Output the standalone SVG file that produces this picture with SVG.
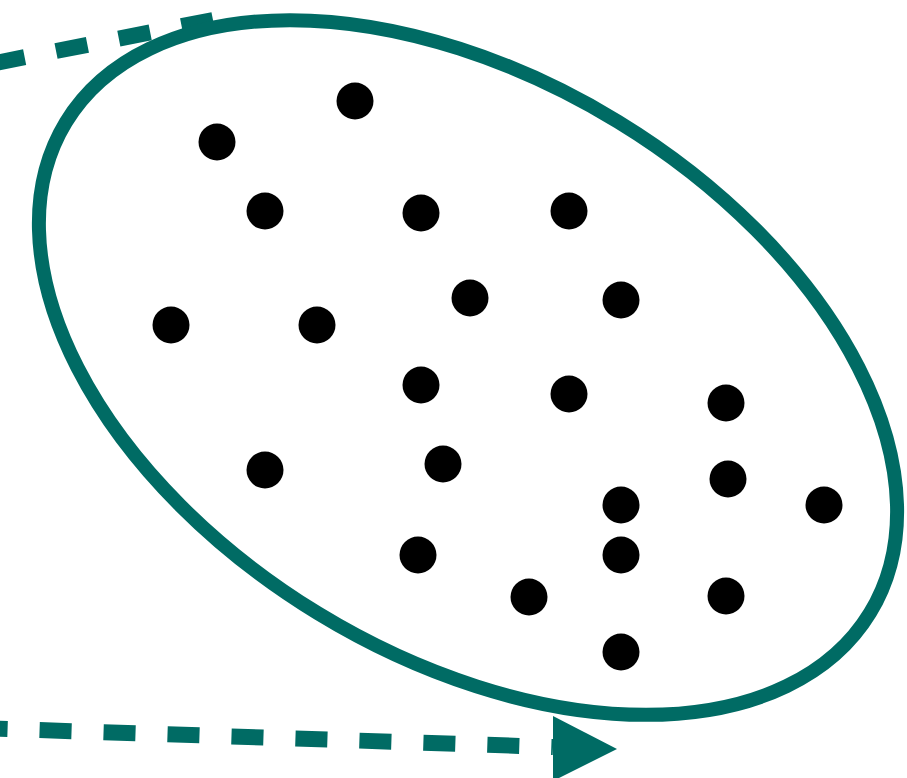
<svg xmlns="http://www.w3.org/2000/svg" width="907" height="778" viewBox="0 0 907 778">
<style>
.edge{fill:none;stroke:#006b64;stroke-width:16;stroke-dasharray:32 32}
.head{fill:#006b64}
.ring{fill:none;stroke:#006b64;stroke-width:14}
.dot{fill:#000}
</style>
<rect width="907" height="778" fill="#fff"/>
<g id="connectors">
<path class="edge" d="M213 20 L-20 66"/>
<path class="edge" d="M-24.4 728 L553 747"/>
<polygon class="head" points="553,716 617,749 553,781"/>
</g>
<g id="cluster">
<ellipse class="ring" cx="468" cy="367.5" rx="471" ry="288" transform="rotate(31.4 468 367.5)"/>
</g>
<g id="points">
<circle class="dot" cx="355" cy="101" r="18.5"/>
<circle class="dot" cx="217" cy="142" r="18.5"/>
<circle class="dot" cx="265" cy="211" r="18.5"/>
<circle class="dot" cx="421" cy="213" r="18.5"/>
<circle class="dot" cx="569" cy="211" r="18.5"/>
<circle class="dot" cx="470" cy="298" r="18.5"/>
<circle class="dot" cx="621" cy="300" r="18.5"/>
<circle class="dot" cx="171" cy="325" r="18.5"/>
<circle class="dot" cx="317" cy="325" r="18.5"/>
<circle class="dot" cx="421" cy="385" r="18.5"/>
<circle class="dot" cx="569" cy="394" r="18.5"/>
<circle class="dot" cx="726" cy="403" r="18.5"/>
<circle class="dot" cx="265" cy="470" r="18.5"/>
<circle class="dot" cx="443" cy="464" r="18.5"/>
<circle class="dot" cx="728" cy="479" r="18.5"/>
<circle class="dot" cx="621" cy="505" r="18.5"/>
<circle class="dot" cx="824" cy="505" r="18.5"/>
<circle class="dot" cx="418" cy="555" r="18.5"/>
<circle class="dot" cx="621" cy="555" r="18.5"/>
<circle class="dot" cx="529" cy="597" r="18.5"/>
<circle class="dot" cx="726" cy="596" r="18.5"/>
<circle class="dot" cx="621" cy="652" r="18.5"/>
</g>
</svg>
